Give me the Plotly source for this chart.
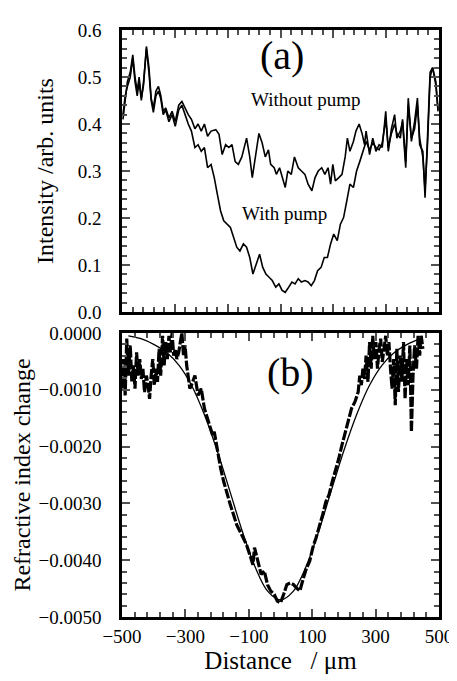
import plotly.graph_objects as go

# ---------------- Panel (a): intensity profiles ----------------
x_without = [-497, -490, -483, -474, -466, -459, -452, -446, -439, -432, -423, -415, -408, -401,
             -393, -385, -378, -370, -362, -352, -342, -332, -321, -311, -301, -291, -281, -270,
             -260, -250, -240, -230, -219, -204, -194, -184, -173, -163, -153, -143, -133, -122,
             -107, -97, -89, -79, -68, -58, -48, -38, -31, -20, -13, -3, 7, 15, 23, 34, 44, 56,
             66, 77, 87, 99, 109, 119, 130, 140, 150, 158, 165, 173, 184, 194, 204, 211, 219,
             230, 238, 248, 258, 265, 270, 281, 291, 301, 311, 321, 332, 340, 350, 360, 367, 378,
             385, 395, 403, 413, 423, 432, 439, 449, 456, 464, 472, 480, 490, 497]
y_without = [0.41, 0.455, 0.49, 0.51, 0.547, 0.50, 0.47, 0.50, 0.455, 0.483, 0.565, 0.52, 0.455, 0.434,
             0.47, 0.48, 0.462, 0.427, 0.434, 0.413, 0.427, 0.405, 0.44, 0.448, 0.434, 0.42, 0.41, 0.39,
             0.40, 0.385, 0.40, 0.374, 0.385, 0.388, 0.378, 0.335, 0.356, 0.35, 0.356, 0.32, 0.314, 0.33,
             0.37, 0.33, 0.286, 0.33, 0.38, 0.36, 0.33, 0.345, 0.314, 0.307, 0.293, 0.307, 0.286, 0.265,
             0.30, 0.293, 0.33, 0.307, 0.30, 0.293, 0.272, 0.258, 0.286, 0.30, 0.307, 0.293, 0.307,
             0.272, 0.314, 0.279, 0.286, 0.293, 0.33, 0.37, 0.342, 0.363, 0.385, 0.40, 0.378, 0.356,
             0.385, 0.335, 0.37, 0.342, 0.356, 0.35, 0.427, 0.342, 0.39, 0.42, 0.37, 0.385, 0.405,
             0.307, 0.455, 0.363, 0.405, 0.455, 0.356, 0.342, 0.243, 0.37, 0.51, 0.52, 0.483, 0.427]

x_with = [-497, -490, -483, -474, -466, -459, -452, -446, -439, -432, -423, -415, -408, -401,
          -393, -385, -378, -370, -362, -352, -342, -332, -321, -311, -301, -291, -281, -270,
          -260, -250, -240, -230, -219, -209, -199, -189, -179, -168, -158, -148, -138, -128,
          -117, -107, -97, -87, -77, -66, -56, -46, -36, -26, -15, -5, 5, 15, 26, 36, 46, 56,
          66, 77, 87, 97, 107, 117, 128, 138, 148, 158, 168, 179, 189, 199, 209, 219, 230, 240,
          250, 260, 270, 281, 291, 301, 311, 321, 332, 340, 350, 360, 367, 378, 385, 395, 403,
          413, 423, 432, 439, 449, 456, 464, 472, 480, 490, 497]
y_with = [0.42, 0.46, 0.48, 0.50, 0.54, 0.49, 0.46, 0.49, 0.45, 0.49, 0.56, 0.51, 0.45, 0.425,
          0.46, 0.47, 0.455, 0.42, 0.43, 0.405, 0.42, 0.395, 0.43, 0.44, 0.42, 0.40, 0.385, 0.35,
          0.356, 0.342, 0.35, 0.307, 0.314, 0.286, 0.25, 0.215, 0.194, 0.187, 0.18, 0.159, 0.138, 0.13,
          0.145, 0.138, 0.116, 0.081, 0.102, 0.123, 0.095, 0.081, 0.074, 0.067, 0.053, 0.06, 0.046,
          0.042, 0.053, 0.064, 0.06, 0.071, 0.064, 0.067, 0.064, 0.056, 0.067, 0.088, 0.095, 0.116,
          0.116, 0.145, 0.166, 0.152, 0.187, 0.201, 0.236, 0.272, 0.265, 0.30, 0.32, 0.342, 0.363,
          0.345, 0.36, 0.35, 0.345, 0.36, 0.41, 0.35, 0.38, 0.40, 0.38, 0.37, 0.41, 0.32, 0.44,
          0.37, 0.39, 0.44, 0.37, 0.33, 0.26, 0.36, 0.50, 0.52, 0.49, 0.43]

# ---------------- Panel (b): refractive index change ----------------
x_meas = [-500, -495, -490, -485, -480, -474, -469, -464, -459, -454, -449, -444, -439, -434,
          -429, -423, -418, -413, -408, -403, -398, -393, -388, -383, -378, -372, -367, -362,
          -357, -352, -347, -342, -337, -332, -327, -321, -316, -311, -306, -301, -296, -291,
          -286, -281, -270, -260, -250, -240, -230, -219, -214, -209, -199, -189, -179, -168,
          -158, -148, -138, -128, -117, -107, -97, -87, -82, -71, -61, -51, -41, -31, -20, -10,
          0, 10, 20, 31, 41, 51, 61, 71, 82, 92, 102, 112, 122, 133, 143, 153, 163, 173, 184,
          194, 204, 214, 224, 235, 245, 250, 255, 260, 265, 270, 276, 281, 286, 291, 296, 301,
          306, 311, 316, 321, 327, 332, 337, 342, 347, 352, 357, 362, 367, 372, 378, 383, 388,
          393, 398, 403, 408, 413, 418, 423, 429, 434, 439, 444, 449]
y_meas = [-0.00098, -0.00046, -0.0011, -0.0001, -0.00075, -0.00022, -0.00086, -0.00057, -0.00098,
          -0.00034, -0.00075, -0.00046, -0.00081, -0.00063, -0.00104, -0.00075, -0.00092, -0.00116,
          -0.00075, -0.00046, -0.00092, -0.00063, -0.00086, -0.00028, -0.00075, -0.00005, -0.00057,
          -0.00016, -0.00046, -0.00005, -0.00034, 0.0, -0.0004, -0.00028, -0.00046, -0.00034,
          -0.00016, 0.0, -0.0004, -0.00022, -0.00057, -0.00075, -0.00098, -0.00092, -0.00075,
          -0.0011, -0.00098, -0.00133, -0.0015, -0.00168, -0.0018, -0.00174, -0.00209, -0.00238,
          -0.00262, -0.00285, -0.00303, -0.0032, -0.00338, -0.00349, -0.00361, -0.00373, -0.0039,
          -0.00408, -0.00378, -0.00402, -0.00425, -0.00419, -0.00443, -0.00454, -0.0046, -0.00472,
          -0.00475, -0.0046, -0.00443, -0.0044, -0.00443, -0.00449, -0.00454, -0.00434, -0.00414,
          -0.00402, -0.00378, -0.00361, -0.00343, -0.0032, -0.00297, -0.00285, -0.00262, -0.00244,
          -0.00221, -0.00197, -0.00174, -0.00156, -0.00133, -0.00121, -0.00104, -0.00075, -0.00092,
          -0.00063, -0.00081, -0.0004, -0.00086, -0.00016, -0.00063, -0.00005, -0.00046, -0.00016,
          -0.00063, -0.00028, -0.0001, -0.00051, -0.00022, -0.00005, -0.0004, -0.00016, -0.00063,
          -0.00098, -0.00046, -0.00127, -0.00028, -0.00104, -0.0004, -0.00086, -0.00016, -0.00116,
          -0.00046, -0.00092, -0.00022, -0.00174, -0.00075, -0.00022, -0.00063, -0.00005, -0.0004,
          -0.00005, -0.00028]

x_fit = [-480, -440, -400, -360, -320, -280, -240, -200, -160, -120, -80, -40, 0,
         40, 80, 120, 160, 200, 240, 280, 320, 360, 400, 440]
y_fit = [-0.00005, -0.0001, -0.0002, -0.00034, -0.00057, -0.00093, -0.00144, -0.00207, -0.00278,
         -0.0035, -0.00412, -0.00455, -0.0047, -0.00455, -0.00412, -0.0035, -0.00278, -0.00207,
         -0.00144, -0.00093, -0.00057, -0.00034, -0.0002, -0.0001]

SERIF = "Liberation Serif"
X_RANGE = [-500, 500]
Y_RANGE_A = [0, 0.6]
Y_RANGE_B = [-0.005, 0]
TOP = [0.5195, 1]
BOT = [0, 0.4839]
TICK = "#505050"

fig = go.Figure()
fig.add_trace(go.Scatter(x=x_without, y=y_without, mode="lines",
                         line=dict(color="black", width=1.6), xaxis="x", yaxis="y",
                         showlegend=False))
fig.add_trace(go.Scatter(x=x_with, y=y_with, mode="lines",
                         line=dict(color="black", width=1.6), xaxis="x", yaxis="y",
                         showlegend=False))
fig.add_trace(go.Scatter(x=x_meas, y=y_meas, mode="lines",
                         line=dict(color="black", width=3.2, dash="10px,2px"), xaxis="x2", yaxis="y2",
                         showlegend=False))
fig.add_trace(go.Scatter(x=x_fit, y=y_fit, mode="lines", line_shape="spline",
                         line=dict(color="black", width=1.3), xaxis="x2", yaxis="y2",
                         showlegend=False))


def major(**kw):
    d = dict(showline=True, linecolor="black", linewidth=2.5, mirror=True,
             ticks="inside", ticklen=8, tickwidth=2, tickcolor=TICK,
             showgrid=False, zeroline=False,
             tickfont=dict(family=SERIF, size=19, color="black"))
    d.update(kw)
    return d


layout_axes = dict(
    xaxis=major(domain=[0, 1], anchor="y", range=X_RANGE, tick0=0, dtick=1000 / 6,
                showticklabels=False),
    yaxis=major(domain=TOP, anchor="x", range=Y_RANGE_A, dtick=0.1, tickformat=".1f",
                ticklabelstandoff=14, automargin=True,
                title=dict(text="Intensity /arb. units", font=dict(family=SERIF, size=24),
                           standoff=18)),
    xaxis2=major(domain=[0, 1], anchor="y2", range=X_RANGE, tick0=-500, dtick=200,
                 automargin=True,
                 title=dict(text="Distance\u00a0\u00a0\u00a0/ \u03bcm\u00a0\u00a0\u00a0",
                            font=dict(family=SERIF, size=25), standoff=4)),
    yaxis2=major(domain=BOT, anchor="x2", range=Y_RANGE_B, dtick=0.001,
                 tickformat=".4f", ticklabelstandoff=14, automargin=True,
                 title=dict(text="Refractive index change", font=dict(family=SERIF, size=24),
                            standoff=2)),
)

# tick-only overlay axes: mirrored major ticks and minor ticks on every side
tick_specs = [
    ("x", "y", "top", 8, 1000 / 6, 0, [0, 1], X_RANGE),
    ("y", "x", "right", 8, 0.1, 0, TOP, Y_RANGE_A),
    ("x", "y", "bottom", 5, 1000 / 30, 0, [0, 1], X_RANGE),
    ("x", "y", "top", 5, 1000 / 30, 0, [0, 1], X_RANGE),
    ("y", "x", "left", 5, 0.02, 0, TOP, Y_RANGE_A),
    ("y", "x", "right", 5, 0.02, 0, TOP, Y_RANGE_A),
    ("x2", "y2", "top", 8, 200, -500, [0, 1], X_RANGE),
    ("y2", "x2", "right", 8, 0.001, 0, BOT, Y_RANGE_B),
    ("x2", "y2", "bottom", 5, 40, -500, [0, 1], X_RANGE),
    ("x2", "y2", "top", 5, 40, -500, [0, 1], X_RANGE),
    ("y2", "x2", "left", 5, 0.0002, 0, BOT, Y_RANGE_B),
    ("y2", "x2", "right", 5, 0.0002, 0, BOT, Y_RANGE_B),
]
n = 3
for base, anchor, side, length, dt, t0, dom, rng in tick_specs:
    letter = base[0]
    layout_axes[f"{letter}axis{n}"] = dict(
        overlaying=base, anchor=anchor, side=side, domain=dom, range=rng,
        tick0=t0, dtick=dt, ticks="inside", ticklen=length, tickwidth=2,
        tickcolor=TICK, showline=False, showticklabels=False,
        showgrid=False, zeroline=False)
    if letter == "x":
        fig.add_trace(go.Scatter(x=[None], y=[None], xaxis=f"x{n}", yaxis=anchor,
                                 showlegend=False, hoverinfo="skip"))
    else:
        fig.add_trace(go.Scatter(x=[None], y=[None], xaxis=anchor, yaxis=f"y{n}",
                                 showlegend=False, hoverinfo="skip"))
    n += 1

fig.update_layout(
    width=457, height=681,
    margin=dict(l=114, r=16, t=18, b=72),
    paper_bgcolor="white", plot_bgcolor="white",
    font=dict(family=SERIF, color="black"),
    annotations=[
        dict(text="(a)", x=5, y=0.545, xref="x", yref="y", showarrow=False,
             font=dict(family=SERIF, size=40)),
        dict(text="(b)", x=30, y=-0.0007, xref="x2", yref="y2", showarrow=False,
             font=dict(family=SERIF, size=40)),
        dict(text="Without pump", x=80, y=0.452, xref="x", yref="y", showarrow=False,
             font=dict(family=SERIF, size=19)),
        dict(text="With pump", x=12, y=0.21, xref="x", yref="y", showarrow=False,
             font=dict(family=SERIF, size=19)),
    ],
    **layout_axes,
)

fig.write_html("out.html")
